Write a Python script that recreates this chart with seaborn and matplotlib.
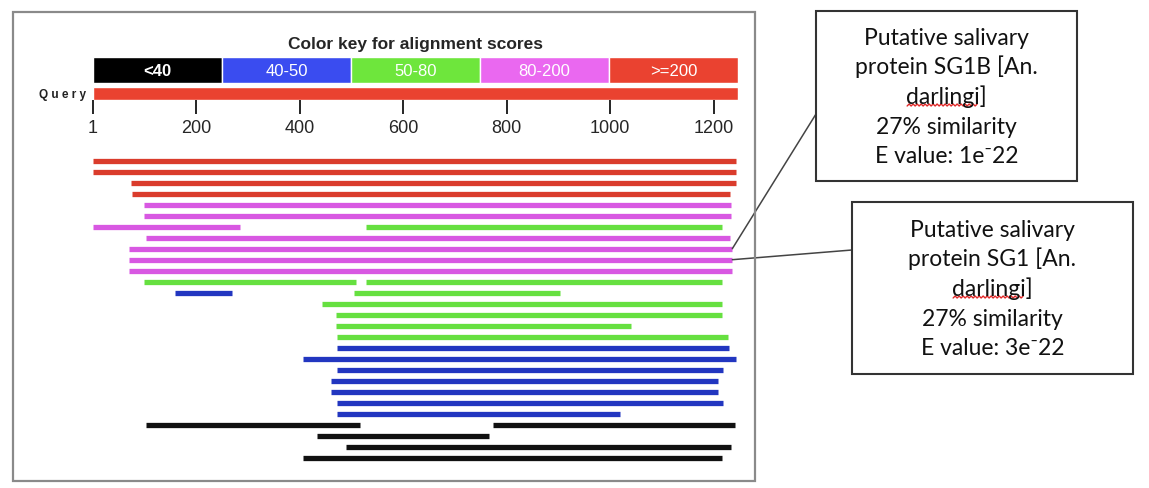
import matplotlib
matplotlib.use("Agg")
import matplotlib.pyplot as plt
import matplotlib.patches as mpatches
import numpy as np
import pandas as pd
import seaborn as sns

# Color key
key_labels = ["<40", "40-50", "50-80", "80-200", ">=200"]
key_colors = ["#000000", "#3a4cf0", "#6ee63c", "#ea68f0", "#ea4230"]

# Query length and ruler ticks
query_len = 1247
tick_pos = [1, 200, 400, 600, 800, 1000, 1200]

# BLAST hits: row, start, end, score bin
hit_row = [0, 1, 2, 3, 4, 5, 6, 6, 7, 8, 9, 10, 11, 11, 12, 12, 13, 14, 15, 16,
           17, 18, 19, 20, 21, 22, 23, 24, 24, 25, 26, 27]
hit_start = [1, 1, 74, 76, 99, 99, 1, 529, 103, 70, 70, 70, 99, 529, 159, 506, 443, 471, 471, 473,
             473, 406, 473, 461, 461, 473, 473, 103, 773, 433, 489, 406]
hit_end = [1243, 1243, 1244, 1231, 1234, 1234, 285, 1216, 1231, 1236, 1236, 1236, 510, 1216, 270, 904, 1216, 1216, 1041, 1227,
           1229, 1244, 1218, 1209, 1209, 1218, 1019, 516, 1242, 766, 1234, 1216]
hit_score = [">=200", ">=200", ">=200", ">=200", "80-200", "80-200", "80-200", "50-80", "80-200", "80-200", "80-200", "80-200",
             "50-80", "50-80", "40-50", "50-80", "50-80", "50-80", "50-80", "50-80",
             "40-50", "40-50", "40-50", "40-50", "40-50", "40-50", "40-50", "<40", "<40", "<40", "<40", "<40"]
hit_colors = {"<40": "#111111", "40-50": "#2236c0", "50-80": "#66e040", "80-200": "#d858e2", ">=200": "#da3c2c"}

# Callouts
callout_1 = ["Putative salivary", "protein SG1B [An.", "darlingi]", "27% similarity", "E value: 1e\u207b22"]
callout_2 = ["Putative salivary", "protein SG1 [An.", "darlingi]", "27% similarity", "E value: 3e\u207b22"]
callout_rows = [8, 9]

sns.set_theme(style="white")
plt.rcParams["font.family"] = ["Liberation Sans", "DejaVu Sans"]

W, H = 1149, 489
fig = plt.figure(figsize=(W / 100, H / 100), dpi=100)
fig.set_facecolor("white")


def fx(px):
    return px / W


def fy(py):
    return 1 - py / H


def add_ax(left, top, right, bottom):
    return fig.add_axes([fx(left), fy(bottom), (right - left) / W, (bottom - top) / H])


# outer frame of the BLAST image
fig.patches.append(mpatches.Rectangle((fx(13), fy(482)), (755 - 13) / W, (482 - 13) / H,
                                      transform=fig.transFigure, fill=False, ec="#8a8a8a", lw=1.6))

# color key
ax_key = add_ax(93, 58, 738, 84)
key_df = pd.DataFrame({"label": key_labels, "v": [1] * len(key_labels)})
sns.barplot(data=key_df, x="label", y="v", hue="label", palette=key_colors, width=1,
            saturation=1, legend=False, ax=ax_key)
ax_key.set_xlim(-0.5, len(key_labels) - 0.5)
ax_key.set_ylim(0, 1)
ax_key.axis("off")
for i, lab in enumerate(key_labels):
    ax_key.text(i, 0.5, lab, color="white", ha="center", va="center", fontsize=12,
                fontweight="bold" if i == 0 else "normal")
fig.text(fx(415), fy(45), "Color key for alignment scores", ha="center", va="center",
         fontsize=12.5, fontweight="bold")

# query bar + ruler
ax_q = add_ax(93, 88, 738, 101)
ax_q.barh([0], [query_len - 1], left=1, height=1, color="#ea4230")
ax_q.set_xlim(1, query_len)
ax_q.set_ylim(-0.5, 0.5)
ax_q.set_yticks([])
for s in ax_q.spines.values():
    s.set_visible(False)
ax_q.set_xticks(tick_pos)
ax_q.set_xticklabels([str(t) for t in tick_pos], fontsize=13)
ax_q.tick_params(axis="x", bottom=True, direction="out", length=10, width=1.2, pad=4, color="black")
fig.text(fx(86), fy(95), "Q u e r y", ha="right", va="center", fontsize=8.5,
         fontweight="bold", color="#222222")

# hits
ax_h = add_ax(93, 156.2, 738, 464.2)
seg_rows = []
for k, (r, s, e, sc) in enumerate(zip(hit_row, hit_start, hit_end, hit_score)):
    seg_rows.append({"seg": k, "row": r, "pos": s, "score": sc})
    seg_rows.append({"seg": k, "row": r, "pos": e, "score": sc})
hits_df = pd.DataFrame(seg_rows)
sns.lineplot(data=hits_df, x="pos", y="row", units="seg", estimator=None, hue="score",
             palette=hit_colors, lw=3.8, legend=False, sort=False, ax=ax_h,
             solid_capstyle="butt")
ax_h.set_xlim(1, query_len)
ax_h.set_ylim(max(hit_row) + 0.5, -0.5)
ax_h.axis("off")

# callout boxes
boxes = [(816, 12, 1077, 182), (852, 203, 1133, 375)]
anchors = [(816, 115), (852, 251)]
texts = [callout_1, callout_2]
fig.canvas.draw()
renderer = fig.canvas.get_renderer()
for (l, t, r, b), lines, row, (axp, ayp) in zip(boxes, texts, callout_rows, anchors):
    fig.patches.append(mpatches.Rectangle((fx(l), fy(b)), (r - l) / W, (b - t) / H,
                                          transform=fig.transFigure, fill=False, ec="#333333", lw=1.5))
    cx = (l + r) / 2
    cy = (t + b) / 2
    n = len(lines)
    for j, line in enumerate(lines):
        yc = cy + (j - (n - 1) / 2) * 29.5
        txt = fig.text(fx(cx), fy(yc + 7), line, ha="center", va="baseline", fontsize=16.5,
                       family=["Lato", "DejaVu Sans"], color="#111111")
        if line.startswith("darlingi"):
            bb = txt.get_window_extent(renderer)
            xs = np.arange(bb.x0 + 1, bb.x0 + bb.width * 0.88, 2.0)
            ys = bb.y0 + 1 + np.where(np.arange(len(xs)) % 2 == 0, 0, 2.0)
            fig.lines.append(plt.Line2D(xs / W, ys / H, transform=fig.transFigure,
                                        color="#e02828", lw=1.0))
    # connector from hit end to the box
    idx = hit_row.index(row)
    con = mpatches.ConnectionPatch(xyA=(hit_end[idx], row), coordsA=ax_h.transData,
                                   xyB=(fx(axp), fy(ayp)), coordsB=fig.transFigure,
                                   color="#444444", lw=1.1)
    fig.add_artist(con)

fig.savefig("out.png", dpi=100)
